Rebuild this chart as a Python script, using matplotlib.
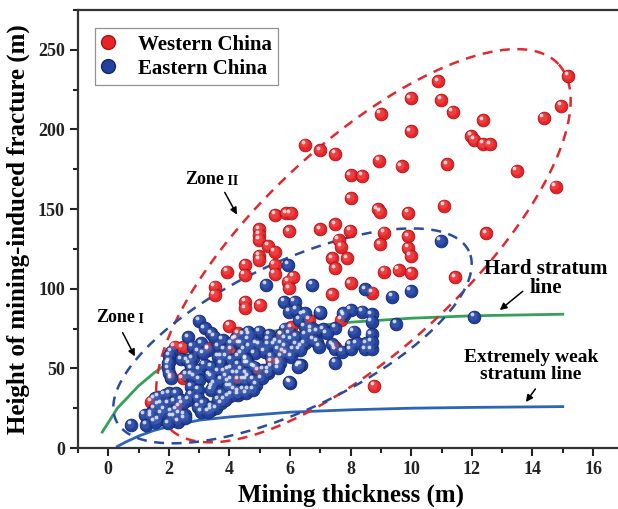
import matplotlib.pyplot as plt
import numpy as np
from matplotlib.lines import Line2D
from matplotlib.legend_handler import HandlerTuple
from matplotlib.transforms import offset_copy

plt.rcParams['font.family'] = ['Liberation Serif', 'DejaVu Serif']
plt.rcParams['font.weight'] = 'bold'

# Western China sites: mining thickness (m), fracture height (m)
west_x = [10.88, 15.17, 9.98, 10.99, 8.99, 11.37, 14.95, 12.37, 14.37, 9.98, 11.98, 12.07,
          12.37, 12.6, 7.49, 8.93, 9.68, 11.18, 8.0, 8.38, 13.48, 14.76, 8.0, 6.5, 7.0,
          8.89, 8.98, 9.89, 11.08, 7.0, 7.49, 7.99, 7.6, 7.69, 7.38, 7.88, 9.1, 8.98, 9.89,
          9.89, 9.98, 12.48, 7.49, 9.1, 9.58, 10.0, 11.45, 8.0, 7.38, 8.7, 8.77,
          5.51, 5.87, 6.02, 5.98, 4.99, 4.99, 4.99, 5.27, 5.49, 4.99, 4.99, 4.52, 4.5, 3.93,
          5.49, 5.49, 5.93, 6.1, 5.98, 3.51, 3.51, 4.52, 4.52, 5.02, 6.64, 7.69, 6.04, 4.0,
          2.46, 2.19, 2.08, 1.42, 2.35, 4.28, 4.94, 5.6, 5.71, 4.17, 7.47,
          3.29, 2.46, 4.07, 5.39, 5.77, 4.28]
west_y = [230.3, 233.7, 219.5, 218.5, 209.7, 210.9, 214.7, 205.7, 207.2, 198.8, 196, 193.3,
          190.8, 190.6, 184.6, 180.4, 176.8, 178.1, 171.2, 170.8, 173.9, 164.1, 156.7, 190.4, 187,
          149.8, 148.1, 147.7, 152.1, 137.3, 140.5, 136.4, 130.6, 126.4, 119, 119, 135.2, 127.8, 133,
          125.7, 120.5, 134.8, 112.8, 110.7, 111.7, 110, 107.2, 103.4, 96.5, 97.5, 38.9,
          146.3, 147.3, 147.3, 136, 137.3, 133.7, 130.6, 126.8, 123.2, 120.5, 118, 114.9, 108.6, 110.7,
          115, 109.2, 104.4, 107.5, 100.3, 101.3, 96, 91.8, 87.7, 89.8, 80.4, 80.4, 75.8, 76.6,
          63.2, 63.6, 44.8, 29.1, 25.9, 42.7, 48.5, 54.4, 70.9, 67.8, 63.6,
          62.6, 43.8, 61.5, 54.2, 60.5, 72]

# Eastern China sites
east_x = [6.72, 8.48, 9.36, 9.98, 12.07, 9.5, 8.69, 8.69, 8.37, 8.0, 7.78, 7.0, 7.49, 8.1, 8.69,
          6.9, 7.1, 7.38, 7.49, 7.71, 8.0, 8.0, 8.48, 8.69, 8.69, 6.9, 7.49, 6.37, 10.97, 5.93,
          5.21, 5.8, 6.15, 5.98, 6.2, 6.98, 6.42, 6.31, 5.82, 6.48, 6.7, 4.61, 4.99, 5.32, 5.71,
          4.61, 4.88, 5.27, 5.49, 5.71, 6.04, 6.2, 6.48, 6.76, 6.97, 8.51, 4.5, 4.83, 5.16, 5.38,
          5.71, 6.04, 6.37, 5.6, 5.38, 6.31, 4.61, 4.85, 4.39, 5.27, 6.0,
          3.01, 3.18, 3.4, 2.63, 2.08, 2.02, 3.07, 2.79, 2.41, 2.6, 2.79, 3.62, 3.78, 4.22, 4.45,
          2.96, 3.29, 2.02, 1.97, 2.02, 2.74, 2.57, 2.85, 3.01, 3.18, 3.01, 2.74, 3.4, 3.4, 3.62,
          3.51, 3.73, 4.06, 3.89, 4.28, 4.45, 4.06, 3.73, 3.45, 4.45, 3.84, 4.06, 4.33, 3.62, 3.89,
          4.28, 4.55, 1.64, 1.86, 2.02, 2.24, 1.75, 1.97, 2.19, 2.41, 1.53, 1.86, 2.08, 2.35, 2.52,
          1.2, 1.42, 1.25, 0.76, 1.64, 2.63, 2.96, 3.07, 3.4, 3.56, 3.73, 3.95, 4.28, 4.61, 4.88,
          5.27, 5.98, 6.26, 2.08, 2.3, 2.52, 1.75, 2.96, 3.4, 3.73, 3.95, 4.17, 4.61, 4.17, 3.95,
          3.5, 3.13, 1.97, 2.08, 2.69, 2.74, 2.74, 2.96, 3.13, 3.35, 3.73, 3.84, 4.07, 3.95, 4.07,
          3.62, 3.84, 3.4, 3.3, 4.39, 4.39, 4.07, 4.28, 4.56, 4.56, 4.28, 4.56, 1.53, 1.64, 2.46,
          1.42, 2.19, 1.53, 1.97, 2.25, 6.49, 7.76, 8.2, 5.11, 5.06, 4.78, 4.67, 4.67, 5.0, 5.28,
          5.55, 5.83, 5.99, 6.21, 6.49, 6.71, 7.21, 6.32, 6.1, 5.83, 5.61, 5.88, 5.66, 5.61, 4.56,
          4.78, 4.56, 4.78]
east_y = [102.3, 99.6, 95, 98.7, 82.4, 77.8, 83.9, 79.3, 85.6, 86.6, 83.3, 84.9, 75.3, 73, 71.4,
          73, 74.5, 65.1, 62, 60.5, 64.7, 62, 62, 62, 66.7, 66.7, 53.5, 52.1, 130.1, 114.9,
          102.3, 91.8, 91.8, 85.6, 86.6, 85.6, 83.5, 80.4, 75, 76.1, 72.4, 73, 73, 70.9, 70.9,
          67.8, 65.7, 67.8, 64.7, 65.7, 67.8, 64.7, 65.7, 67.8, 63.6, 65.7, 61.5, 59.4, 60.5, 57.3,
          57.3, 57.3, 63.6, 52.1, 51, 52.1, 53.2, 50.5, 49, 46.9, 40.8,
          79.9, 75.1, 72, 69.5, 60.5, 57.7, 65.7, 63.6, 55.7, 55, 56.3, 63.6, 67.8, 68.9, 70.9,
          60.7, 61.5, 54.2, 50, 46.9, 50, 45.8, 44.8, 49, 52.1, 42.7, 38.5, 51, 44.8, 47.9,
          40.6, 53.2, 50, 44.8, 46.9, 42.7, 38.5, 34.3, 38.5, 36.4, 61.5, 65.7, 65.7, 57.3, 57.3,
          57.3, 56, 32.2, 33.3, 34.3, 34.3, 28.1, 28.1, 29.1, 30.1, 24.9, 23.9, 22.8, 21.8, 20.7,
          20.7, 19.6, 14.4, 14.4, 17.6, 30.1, 25.9, 22.8, 23.9, 24.9, 28.1, 32.2, 33.3, 36.4, 39.5,
          49, 41.6, 51, 19.6, 16.5, 18.6, 21.8, 36.4, 36.4, 42.7, 41.6, 36.4, 44.8, 46.9, 49,
          69.9, 59.5, 53.2, 43.8, 53.2, 45.9, 33.3, 31.2, 28.1, 45.9, 57.3, 47.9, 42.7, 38.5, 33.3,
          30.2, 30.2, 25.9, 22.8, 65.7, 59.5, 55.3, 52.1, 53.2, 42.7, 35.4, 34.4, 31.2, 27, 28.1,
          21.8, 19.7, 16.5, 15.5, 23.9, 84.6, 84.6, 65.8, 49, 43.8, 36.4, 71, 63.6, 64.7, 64.7,
          66.8, 68.9, 72, 69.9, 71, 75.2, 72, 61.6, 61.6, 63.6, 61.6, 59.5, 53.2, 50.1, 55.3,
          51.1, 46.9, 42.7]

# boundary lines
hard_x = [-0.2, 0.0, 0.3, 0.6, 1.0, 1.5, 2.0, 2.5, 3.0, 4.0, 5.0, 6.0, 8.0, 10.0, 12.0, 15.0]
hard_y = [10, 16, 25, 31, 39, 47, 54, 59.5, 63, 68, 72, 75, 79, 81.5, 83, 84]
weak_x = [0.3, 0.6, 1.0, 1.5, 2.0, 3.0, 4.0, 5.0, 6.0, 8.0, 10.0, 12.0, 15.0]
weak_y = [1, 4, 7.5, 11, 13.5, 17.5, 19.5, 21, 22.5, 24, 25, 25.5, 26]

# zone envelopes: centre x, centre y, half-axes and tilt (x units, y scaled by ys)
ys = 19.0
zone2 = dict(cx=8.42, cy=127.0, a=8.8, b=3.4, ang=43.0)
zone1 = dict(cx=6.08, cy=70.4, a=6.46, b=2.42, ang=25.7)


def envelope(cx, cy, a, b, ang):
    t = np.linspace(0, 2 * np.pi, 300)
    th = np.radians(ang)
    u = a * np.cos(t) * np.cos(th) - b * np.sin(t) * np.sin(th)
    v = a * np.cos(t) * np.sin(th) + b * np.sin(t) * np.cos(th)
    return cx + u, cy + v * ys


def balls(ax, x, y, face, edge, glow, s=84):
    ax.scatter(x, y, s=s, color=face, edgecolors=edge, linewidths=0.6, zorder=4)
    # soft lighter patch, then a small shine spot towards the upper left
    soft = offset_copy(ax.transData, fig=ax.figure, x=-0.8, y=0.9, units='points')
    ax.scatter(x, y, s=s * 0.45, color=glow, alpha=0.5, linewidths=0,
               transform=soft, zorder=5)
    shine = offset_copy(ax.transData, fig=ax.figure, x=-1.7, y=1.9, units='points')
    ax.scatter(x, y, s=s * 0.09, color='white', alpha=0.75, linewidths=0,
               transform=shine, zorder=6)


fig = plt.figure(figsize=(6.18, 5.09), dpi=100)
ax = fig.add_axes([0.1262, 0.1198, 0.8825, 0.8606])

ax.plot(hard_x, hard_y, color='#34a05a', lw=2, zorder=2)
ax.plot(weak_x, weak_y, color='#2f63b6', lw=2, zorder=2)

ex, ey = envelope(**zone2)
ax.plot(ex, ey, color='#e0282e', lw=1.8, dashes=(4, 3), zorder=3)
ex, ey = envelope(**zone1)
ax.plot(ex, ey, color='#2a4b9e', lw=1.8, dashes=(4, 3), zorder=3)

balls(ax, west_x, west_y, '#e52528', '#b01218', '#f25a5a')
balls(ax, east_x, east_y, '#22409c', '#142a6e', '#4766b8')

ax.set_xlim(-1, 17)
ax.set_ylim(0, 275)
ax.set_xticks(range(0, 17, 2))
ax.set_xticks(range(-1, 17, 2), minor=True)
ax.set_yticks(range(0, 251, 50))
ax.set_yticks(range(25, 276, 50), minor=True)
ax.tick_params(which='major', direction='out', length=6, width=1.5, labelsize=13, colors='#222')
ax.tick_params(which='minor', direction='out', length=3.5, width=1.5, colors='#222')
for sp in ax.spines.values():
    sp.set_linewidth(1.6)
    sp.set_color('#333333')

ax.set_xlabel('Mining thickness (m)', fontsize=18, fontweight='bold', labelpad=4)
ax.set_ylabel('Height of mining-induced fracture (m)', fontsize=18, fontweight='bold', labelpad=6)

# zone labels
arrow = dict(arrowstyle='-|>', color='black', lw=1.1, mutation_scale=10)
t2 = ax.text(2.55, 165.8, 'Zone', fontsize=13, fontweight='bold', va='baseline')
ax.annotate(' II', xy=(1, 0), xycoords=t2, fontsize=10, fontweight='bold', va='bottom')
ax.annotate('', xy=(4.29, 145), xytext=(3.8, 162), arrowprops=arrow)
t1 = ax.text(-0.4, 79, 'Zone', fontsize=13, fontweight='bold', va='baseline')
ax.annotate(' I', xy=(1, 0), xycoords=t1, fontsize=10, fontweight='bold', va='bottom')
ax.annotate('', xy=(0.92, 56), xytext=(0.43, 74), arrowprops=arrow)

ax.text(14.45, 94, 'Hard stratum\nline', fontsize=15, fontweight='bold',
        ha='center', va='bottom', linespacing=0.95)
ax.annotate('', xy=(12.85, 85.5), xytext=(13.75, 99.5), arrowprops=arrow)
ax.text(13.95, 41, 'Extremely weak\nstratum line', fontsize=14, fontweight='bold',
        ha='center', va='bottom', linespacing=0.95)
ax.annotate('', xy=(13.73, 27.5), xytext=(14.15, 38.5), arrowprops=arrow)

hw = Line2D([], [], ls='', marker='o', ms=10, mfc='#e52528', mec='#b01218')
hwh = Line2D([], [], ls='', marker='o', ms=3, mfc='white', mec='none', alpha=0.75)
he = Line2D([], [], ls='', marker='o', ms=10, mfc='#22409c', mec='#142a6e')
leg = ax.legend([(hw, hwh), (he, hwh)], ['Western China', 'Eastern China'],
                handler_map={tuple: HandlerTuple(ndivide=None, pad=0)},
                loc='upper left', bbox_to_anchor=(0.031, 0.958), borderaxespad=0,
                fontsize=15, frameon=True, fancybox=False, edgecolor='#777777',
                handletextpad=0.35, borderpad=0.3, labelspacing=0.2, handlelength=1.4)
leg.get_frame().set_linewidth(0.9)
for txt in leg.get_texts():
    txt.set_fontweight('bold')

fig.savefig('out.png', dpi=100)
